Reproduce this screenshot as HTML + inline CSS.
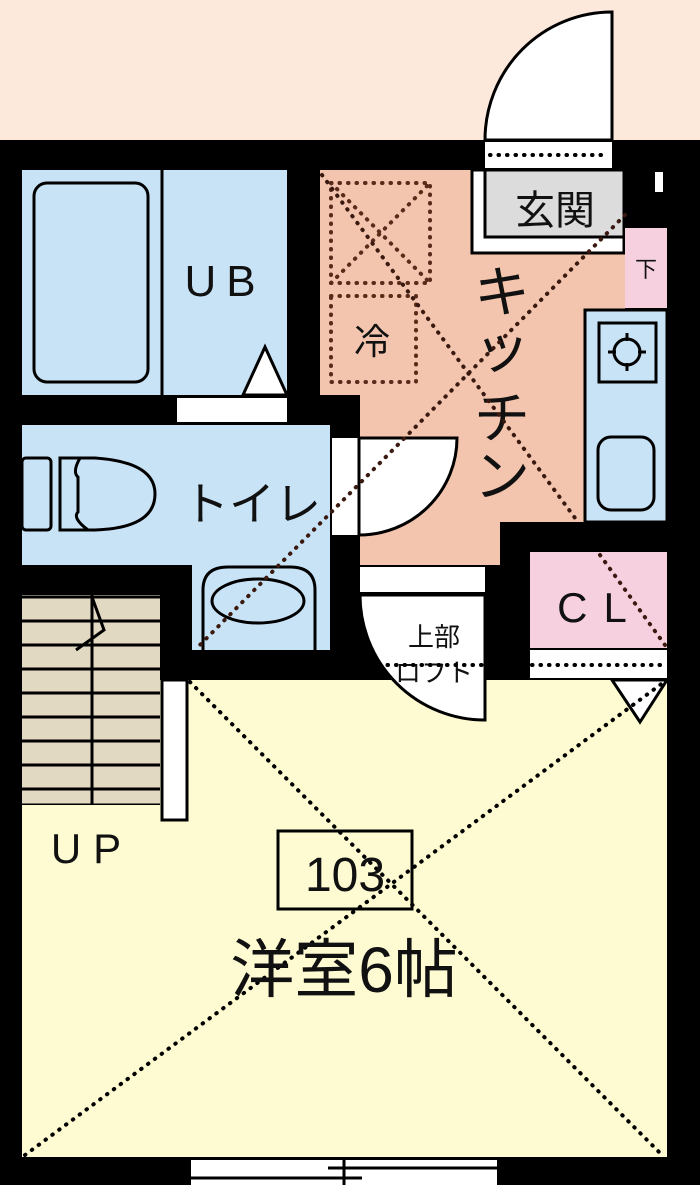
<!DOCTYPE html>
<html><head><meta charset="utf-8"><style>
html,body{margin:0;padding:0;background:#fde8dc;}
svg{display:block}
text{font-family:"Liberation Sans","Noto Sans CJK JP",sans-serif;fill:#111;}
</style></head><body>
<svg width="700" height="1185" viewBox="0 0 700 1185" xmlns="http://www.w3.org/2000/svg">
<rect x="0" y="0" width="700" height="1185" fill="#fde8dc"/>
<rect x="0" y="140" width="700" height="1045" fill="#000"/>
<path d="M485,140 A127,128 0 0 1 612,12 L612,140 Z" fill="#fff" stroke="#000" stroke-width="3"/>
<rect x="485" y="142" width="127" height="26" fill="#fff"/>
<line x1="490" y1="155" x2="608" y2="155" stroke="#000" stroke-width="4" stroke-linecap="round" stroke-dasharray="0.5,8"/>
<!-- UB -->
<rect x="22" y="170" width="265" height="225" fill="#c9e3f6"/>
<line x1="162" y1="170" x2="162" y2="395" stroke="#000" stroke-width="3"/>
<rect x="34" y="183" width="114" height="199" rx="13" fill="#c9e3f6" stroke="#000" stroke-width="3"/>
<polygon points="243,395 265,347 287,395" fill="#fff" stroke="#000" stroke-width="3"/>
<rect x="177" y="398" width="110" height="24" fill="#fff"/>
<text x="225" y="296" font-size="44" text-anchor="middle" letter-spacing="10">UB</text>
<!-- kitchen -->
<rect x="320" y="170" width="305" height="225" fill="#f3c5ae"/>
<rect x="360" y="395" width="225" height="127" fill="#f3c5ae"/>
<rect x="360" y="520" width="140" height="45" fill="#f3c5ae"/>
<rect x="585" y="310" width="15" height="210" fill="#f3c5ae"/>
<rect x="472" y="170" width="152" height="83" fill="#fff" stroke="#000" stroke-width="3"/>
<rect x="485" y="170" width="139" height="67" fill="#dcdcdc" stroke="#000" stroke-width="3"/>
<text x="555" y="224" font-size="40" text-anchor="middle">玄関</text>
<rect x="625" y="228" width="42" height="80" fill="#f6d0df"/>
<text x="646" y="277" font-size="22" text-anchor="middle">下</text>
<rect x="655" y="172" width="8" height="20" fill="#fff"/>
<rect x="585" y="310" width="82" height="212" fill="#c9e3f6" stroke="#000" stroke-width="3"/>
<rect x="599" y="323" width="57" height="59" fill="#c9e3f6" stroke="#000" stroke-width="3"/>
<circle cx="627" cy="352" r="13" fill="none" stroke="#000" stroke-width="3"/>
<g stroke="#000" stroke-width="3"><line x1="627" y1="333" x2="627" y2="341"/><line x1="627" y1="363" x2="627" y2="371"/><line x1="608" y1="352" x2="616" y2="352"/><line x1="638" y1="352" x2="646" y2="352"/></g>
<rect x="598" y="437" width="56" height="73" rx="13" fill="#c9e3f6" stroke="#000" stroke-width="3"/>
<g fill="none" stroke="#5a2a1a" stroke-width="4" stroke-linecap="round" stroke-dasharray="0.5,8">
<rect x="331" y="183" width="99" height="100"/>
<line x1="331" y1="283" x2="430" y2="183"/>
<line x1="331" y1="183" x2="430" y2="283"/>
<rect x="331" y="296" width="85" height="86"/>
</g>
<text x="372" y="354" font-size="36" text-anchor="middle">冷</text>
<g font-size="56" text-anchor="middle">
<text x="502" y="312">キ</text>
<text x="502" y="368">ッ</text>
<text x="502" y="438">チ</text>
<text x="502" y="496">ン</text>
</g>
<!-- toilet -->
<rect x="22" y="425" width="308" height="140" fill="#c9e3f6"/>
<rect x="192" y="560" width="138" height="90" fill="#c9e3f6"/>
<rect x="22" y="458" width="29" height="72" rx="4" fill="#c9e3f6" stroke="#000" stroke-width="3"/>
<path d="M60,458 L95,458 Q155,462 155,494 Q155,528 95,530 L60,530 Z" fill="#c9e3f6" stroke="#000" stroke-width="3"/>
<path d="M80,458 Q72,472 78,477 L78,512 Q72,518 88,530" fill="none" stroke="#000" stroke-width="3"/>
<text x="252" y="520" font-size="46" text-anchor="middle">トイレ</text>
<path d="M203,650 L203,590 Q203,567 228,567 L290,567 Q315,567 315,590 L315,650" fill="#c9e3f6" stroke="#000" stroke-width="3"/>
<ellipse cx="258" cy="601" rx="46" ry="22" fill="#c9e3f6" stroke="#000" stroke-width="3"/>
<rect x="332" y="438" width="27" height="97" fill="#fff"/>
<path d="M359,438 L457,438 A98,97 0 0 1 359,535 Z" fill="#fff" stroke="#000" stroke-width="3"/>
<!-- stairs -->
<rect x="22" y="595" width="138" height="210" fill="#e2d9c2"/>
<g stroke="#000" stroke-width="3">
<line x1="22" y1="597" x2="160" y2="597"/><line x1="22" y1="621" x2="160" y2="621"/>
<line x1="22" y1="645" x2="160" y2="645"/><line x1="22" y1="669" x2="160" y2="669"/>
<line x1="22" y1="693" x2="160" y2="693"/><line x1="22" y1="717" x2="160" y2="717"/>
<line x1="22" y1="741" x2="160" y2="741"/><line x1="22" y1="765" x2="160" y2="765"/>
<line x1="22" y1="789" x2="160" y2="789"/><line x1="22" y1="805" x2="160" y2="805"/>
<line x1="92" y1="595" x2="92" y2="805"/>
</g>
<polyline points="92,597 104,630 76,650" fill="none" stroke="#000" stroke-width="3"/>
<!-- main room -->
<rect x="22" y="805" width="645" height="352" fill="#fefbd2"/>
<rect x="160" y="680" width="507" height="130" fill="#fefbd2"/>
<rect x="162" y="680" width="25" height="140" fill="#fff" stroke="#000" stroke-width="3"/>
<text x="92" y="863" font-size="42" text-anchor="middle" letter-spacing="12">UP</text>
<rect x="530" y="552" width="137" height="96" fill="#f6d0df"/>
<rect x="530" y="650" width="137" height="28" fill="#fff"/>
<text x="600" y="622" font-size="42" text-anchor="middle" letter-spacing="16">CL</text>
<polygon points="612,680 667,680 640,722" fill="#fff" stroke="#000" stroke-width="3"/>
<rect x="360" y="567" width="125" height="25" fill="#fff"/>
<path d="M360,595 L485,595 L485,720 A125,125 0 0 1 360,595 Z" fill="#fff" stroke="#000" stroke-width="3"/>
<text x="434" y="646" font-size="26" text-anchor="middle">上部</text>
<text x="434" y="682" font-size="26" text-anchor="middle">ロフト</text>
<line x1="362" y1="665" x2="665" y2="665" stroke="#000" stroke-width="4" stroke-linecap="round" stroke-dasharray="0.5,8"/>
<g fill="none" stroke="#3a1a10" stroke-width="4" stroke-linecap="round" stroke-dasharray="0.5,8">
<line x1="322" y1="175" x2="578" y2="522"/>
<line x1="625" y1="215" x2="195" y2="650"/>
<line x1="600" y1="555" x2="665" y2="645"/>
</g>
<g fill="none" stroke="#000" stroke-width="4" stroke-linecap="round" stroke-dasharray="0.5,8">
<line x1="190" y1="682" x2="662" y2="1155"/>
<line x1="25" y1="1155" x2="664" y2="682"/>
</g>
<rect x="278" y="831" width="134" height="78" fill="none" stroke="#000" stroke-width="3"/>
<text x="345" y="891" font-size="48" text-anchor="middle">103</text>
<text x="344" y="992" font-size="64" text-anchor="middle">洋室6帖</text>
<rect x="191" y="1160" width="306" height="25" fill="#fff"/>
<line x1="328" y1="1168" x2="497" y2="1168" stroke="#000" stroke-width="3"/>
<line x1="191" y1="1178" x2="362" y2="1178" stroke="#000" stroke-width="3"/>
<line x1="344" y1="1160" x2="344" y2="1185" stroke="#000" stroke-width="3"/>
</svg>
</body></html>
